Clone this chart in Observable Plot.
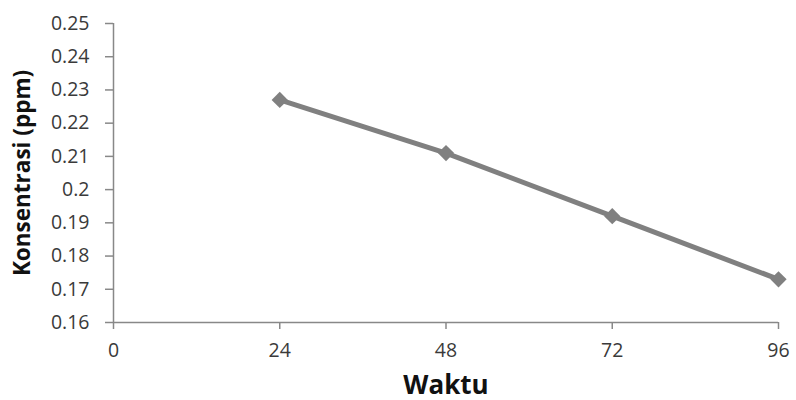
<!DOCTYPE html>
<html>
<head>
<meta charset="utf-8">
<script src="https://cdn.jsdelivr.net/npm/d3@7"></script>
<script src="https://cdn.jsdelivr.net/npm/@observablehq/plot@0.6"></script>
<style>
  html, body { margin: 0; padding: 0; background: #fff; }
  #chart svg { display: block; }
</style>
</head>
<body>
<div id="chart"></div>
<script>
const waktu = [24, 48, 72, 96];
const konsentrasi = [0.227, 0.211, 0.192, 0.173];
const xTicks = [0, 24, 48, 72, 96];
const yTicks = [0.16, 0.17, 0.18, 0.19, 0.20, 0.21, 0.22, 0.23, 0.24, 0.25];
const xTitle = "Waktu";
const yTitle = "Konsentrasi (ppm)";

const data = waktu.map((w, i) => ({ waktu: w, konsentrasi: konsentrasi[i] }));
const fmt = d => String(+d.toFixed(2));
const axisGray = "#888888";
const textColor = "#3a3a3a";
const font = "'Open Sans', sans-serif";

const chart = Plot.plot({
  width: 796,
  height: 400,
  marginLeft: 113,
  marginRight: 18,
  marginTop: 23,
  marginBottom: 78,
  style: { fontFamily: font, background: "#fff" },
  x: { domain: [0, 96] },
  y: { domain: [0.16, 0.25] },
  marks: [
    Plot.axisY({ ticks: yTicks, tickFormat: fmt, tickSize: 8, tickPadding: 16, label: null,
      stroke: axisGray, fill: textColor, fontSize: 19.5, strokeWidth: 1.5 }),
    Plot.axisX({ ticks: xTicks, tickSize: 7, tickPadding: 14, label: null,
      stroke: axisGray, fill: textColor, fontSize: 19.5, strokeWidth: 1.5 }),
    Plot.ruleX([0], { stroke: axisGray, strokeWidth: 1.5 }),
    Plot.ruleY([0.16], { stroke: axisGray, strokeWidth: 1.5 }),
    Plot.line(data, { x: "waktu", y: "konsentrasi", stroke: "#808080", strokeWidth: 5 }),
    Plot.dot(data, { x: "waktu", y: "konsentrasi", symbol: "square", rotate: 45, r: 6.5, fill: "#808080" }),
    Plot.text([yTitle], { frameAnchor: "left", textAnchor: "middle", dx: -91, rotate: -90, fontSize: 22.5, fontWeight: "bold", fill: "#111", fontFamily: font }),
    Plot.text([xTitle], { frameAnchor: "bottom", textAnchor: "middle", dy: 71, fontSize: 26, fontWeight: "bold", fill: "#111", fontFamily: font })
  ]
});
document.getElementById("chart").appendChild(chart);
</script>
</body>
</html>
